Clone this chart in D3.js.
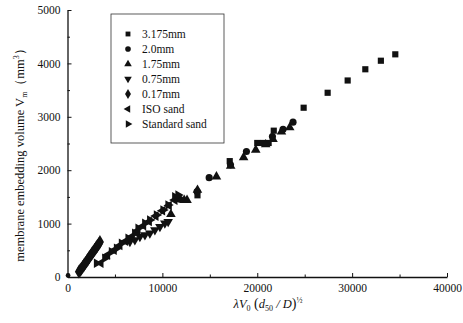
<!DOCTYPE html>
<html>
<head>
<meta charset="utf-8">
<script src="https://cdn.jsdelivr.net/npm/d3@7"></script>
<style>
  body { margin: 0; background: #fff; }
  svg { display: block; font-family: "Liberation Serif", "DejaVu Serif", serif; }
</style>
</head>
<body>
<div id="chart"></div>
<script>
// series values: [x, y]
const d3175 = [[13700, 1530], [17100, 2170], [20000, 2510], [20600, 2510], [21200, 2510],
  [21740, 2740], [24890, 3170], [27420, 3450], [29530, 3680], [31390, 3890], [33030, 4050], [34550, 4170]];
const d20 = [[60, 30], [11840, 1455], [13660, 1600], [14930, 1860], [17180, 2100], [18860, 2350],
  [21600, 2630], [22720, 2765], [23770, 2900]];
const d175 = [[10900, 1175], [12300, 1440], [12600, 1440], [13700, 1630], [15700, 1880], [17200, 2080],
  [18560, 2240], [19840, 2380], [20890, 2480], [21660, 2580], [22550, 2720], [23420, 2800]];
const d075 = [[6580, 662], [7100, 693], [7630, 755], [8160, 787], [8680, 818], [9210, 880],
  [9740, 942], [10260, 1006], [10610, 1036]];
const d017 = [[1200, 100], [1330, 125], [1460, 155], [1600, 190], [1740, 225], [1880, 260],
  [2020, 295], [2160, 330], [2300, 370], [2440, 405], [2580, 440], [2720, 475], [2860, 510],
  [3000, 545], [3140, 580], [3280, 615], [3420, 655]];
const dIso = [[3500, 260], [4200, 410], [4900, 500], [5500, 590], [6100, 670], [6800, 760],
  [7400, 870], [8000, 960], [8600, 1040], [9300, 1140], [10000, 1240], [10700, 1340], [11300, 1440]];
const dStd = [[3070, 257], [3950, 350], [4650, 474], [5180, 537], [5700, 631], [6400, 725],
  [7100, 818], [7450, 912], [8160, 1006], [8680, 1067], [9390, 1161], [10080, 1255],
  [10610, 1348], [11320, 1504], [11660, 1536]];

const seriesNames = ["3.175mm", "2.0mm", "1.75mm", "0.75mm", "0.17mm", "ISO sand", "Standard sand"];
const seriesData = [d3175, d20, d175, d075, d017, dIso, dStd];
const xTicks = [0, 10000, 20000, 30000, 40000];
const yTicks = [0, 1000, 2000, 3000, 4000, 5000];

const width = 463, height = 323;
const ink = "#111";

// triangle pointing up, rotated for the other directions
const shapes = [
  { type: d3.symbolSquare, rot: 0, size: 38 },
  { type: d3.symbolCircle, rot: 0, size: 40 },
  { type: d3.symbolTriangle, rot: 0, size: 40 },
  { type: d3.symbolTriangle, rot: 180, size: 40 },
  { type: d3.symbolDiamond, rot: 0, size: 56 },
  { type: d3.symbolTriangle, rot: -90, size: 40 },
  { type: d3.symbolTriangle, rot: 90, size: 40 }
];

const svg = d3.select("#chart").append("svg")
  .attr("width", width)
  .attr("height", height);

const x = d3.scaleLinear().domain([0, 40000]).range([67.5, 447]);
const y = d3.scaleLinear().domain([0, 5000]).range([277, 10]);

// minor ticks first
svg.append("g")
  .attr("transform", `translate(0,${y(0)})`)
  .call(d3.axisBottom(x).tickValues([5000, 15000, 25000, 35000]).tickSize(-2.5).tickFormat(""))
  .call(g => g.select(".domain").remove());
svg.append("g")
  .attr("transform", `translate(${x(0)},0)`)
  .call(d3.axisLeft(y).tickValues([500, 1500, 2500, 3500, 4500]).tickSize(-2.5).tickFormat(""))
  .call(g => g.select(".domain").remove());

const xAxis = svg.append("g")
  .attr("transform", `translate(0,${y(0)})`)
  .call(d3.axisBottom(x).tickValues(xTicks).tickSize(-4).tickSizeOuter(0).tickPadding(7).tickFormat(d3.format("d")));
const yAxis = svg.append("g")
  .attr("transform", `translate(${x(0)},0)`)
  .call(d3.axisLeft(y).tickValues(yTicks).tickSize(-4).tickSizeOuter(0).tickPadding(7).tickFormat(d3.format("d")));

svg.selectAll(".tick line").attr("stroke", ink).attr("stroke-width", 1);
svg.selectAll(".domain").attr("stroke", ink).attr("stroke-width", 1.3);
[xAxis, yAxis].forEach(g => g.selectAll("text")
  .attr("fill", ink)
  .style("font-family", "'Liberation Serif', serif")
  .style("font-size", "11.5px"));

// points
seriesData.forEach((data, i) => {
  const s = shapes[i];
  const sym = d3.symbol().type(s.type).size(i === 1 && false ? 20 : s.size);
  svg.append("g").selectAll("path")
    .data(data)
    .join("path")
    .attr("d", (d, j) => (i === 1 && j === 0) ? d3.symbol().type(s.type).size(18)() : sym())
    .attr("transform", d => `translate(${x(d[0])},${y(d[1])}) rotate(${s.rot})`)
    .attr("fill", ink);
});

// legend
const legend = svg.append("g");
legend.append("rect")
  .attr("x", 111).attr("y", 14)
  .attr("width", 113).attr("height", 129)
  .attr("fill", "#fff")
  .attr("stroke", "#333")
  .attr("stroke-width", 0.8);
seriesNames.forEach((name, i) => {
  const s = shapes[i];
  const cy = 34 + i * 15;
  legend.append("path")
    .attr("d", d3.symbol().type(s.type).size(i === 4 ? 30 : s.size * 0.62)())
    .attr("transform", `translate(128,${cy}) rotate(${s.rot})`)
    .attr("fill", ink);
  legend.append("text")
    .attr("x", 142).attr("y", cy + 4)
    .attr("fill", ink)
    .style("font-size", "11.5px")
    .text(name);
});

// y label
const yl = svg.append("text")
  .attr("transform", "translate(24,152) rotate(-90)")
  .attr("text-anchor", "middle")
  .attr("fill", ink)
  .style("font-size", "12.5px");
yl.append("tspan").text("membrane embedding volume V");
yl.append("tspan").attr("dy", 3).style("font-size", "8px").text("m");
yl.append("tspan").attr("dy", -3).text("（mm");
yl.append("tspan").attr("dy", -5).style("font-size", "8px").text("3");
yl.append("tspan").attr("dy", 5).text("）");

// x label
const xl = svg.append("text")
  .attr("x", 268).attr("y", 308)
  .attr("text-anchor", "middle")
  .attr("fill", ink)
  .style("font-size", "12.5px")
  .style("font-style", "italic");
xl.append("tspan").text("λV");
xl.append("tspan").attr("dy", 3).style("font-size", "8px").style("font-style", "normal").text("0");
xl.append("tspan").attr("dy", -3).style("font-style", "normal").style("font-size", "14px").text(" (");
xl.append("tspan").text("d");
xl.append("tspan").attr("dy", 3).style("font-size", "8px").style("font-style", "normal").text("50");
xl.append("tspan").attr("dy", -3).text(" / D");
xl.append("tspan").style("font-style", "normal").style("font-size", "14px").text(")");
xl.append("tspan").attr("dy", -5).style("font-size", "8px").style("font-style", "normal").text("½");
</script>
</body>
</html>
